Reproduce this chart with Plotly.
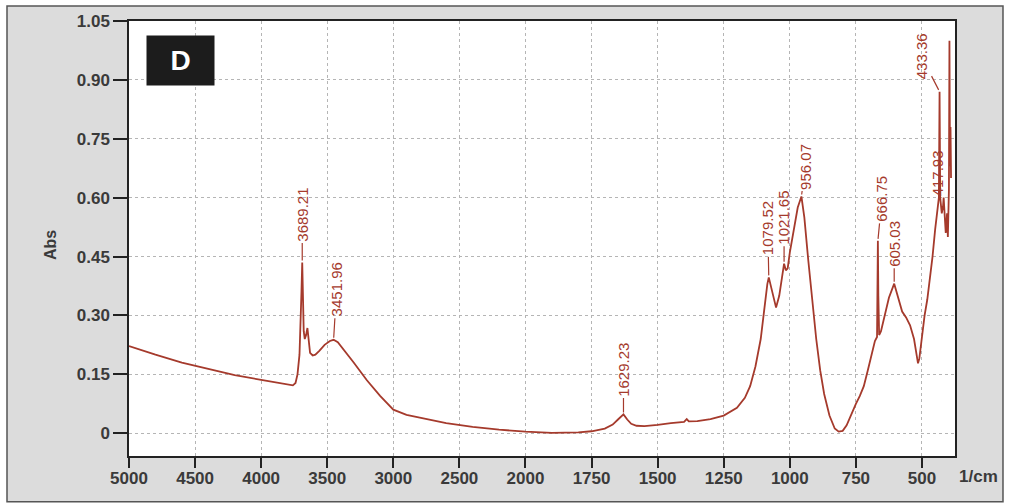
import numpy as np
import plotly.graph_objects as go

# FTIR absorbance spectrum (wavenumber in 1/cm, absorbance)
wavenumber = [
    5000, 4800, 4600, 4500, 4400, 4200, 4000, 3900, 3800, 3760, 3740, 3725,
    3710, 3700, 3695, 3689.21, 3684, 3678, 3670, 3660, 3650, 3642, 3630, 3610,
    3590, 3560, 3520, 3480, 3451.96, 3420, 3380, 3340, 3300, 3200, 3100, 3000,
    2900, 2800, 2600, 2400, 2200, 2000, 1900, 1800, 1750, 1700, 1670, 1650,
    1629.23, 1615, 1600, 1580, 1550, 1500, 1450, 1400, 1390, 1382, 1350, 1300,
    1250, 1200, 1170, 1150, 1130, 1110, 1095, 1085, 1079.52, 1070, 1060, 1052,
    1040, 1030, 1021.65, 1015, 1008, 1000, 985, 970, 956.07, 945, 930, 915,
    900, 885, 870, 850, 830, 815, 800, 785, 770, 750, 735, 720, 705, 690, 678,
    670, 668, 666.75, 665, 662, 655, 640, 625, 605.03, 590, 575, 560, 545, 530,
    520, 515, 510, 500, 490, 480, 470, 460, 450, 440, 436, 433.36, 431, 425,
    420, 417.93, 414, 410, 405, 402, 398, 396, 394, 392, 390,
]
absorbance = [
    0.222, 0.200, 0.180, 0.172, 0.163, 0.148, 0.136, 0.130, 0.124, 0.122, 0.128, 0.150,
    0.200, 0.280, 0.360, 0.435, 0.360, 0.260, 0.240, 0.250, 0.268, 0.240, 0.205, 0.198,
    0.200, 0.210, 0.225, 0.235, 0.238, 0.232, 0.215, 0.195, 0.180, 0.135, 0.095, 0.060,
    0.047, 0.040, 0.026, 0.016, 0.009, 0.004, 0.001, 0.002, 0.005, 0.012, 0.022, 0.035,
    0.048, 0.035, 0.024, 0.019, 0.018, 0.021, 0.026, 0.029, 0.036, 0.030, 0.031, 0.036,
    0.045, 0.065, 0.090, 0.120, 0.170, 0.240, 0.330, 0.380, 0.397, 0.370, 0.335, 0.320,
    0.350, 0.400, 0.432, 0.415, 0.420, 0.460, 0.520, 0.575, 0.603, 0.550, 0.440, 0.330,
    0.240, 0.160, 0.100, 0.045, 0.012, 0.004, 0.006, 0.020, 0.045, 0.075, 0.095, 0.120,
    0.160, 0.205, 0.235, 0.245, 0.350, 0.490, 0.350, 0.250, 0.260, 0.300, 0.345, 0.381,
    0.345, 0.310, 0.295, 0.275, 0.240, 0.200, 0.178, 0.190, 0.250, 0.300, 0.340, 0.390,
    0.450, 0.520, 0.580, 0.600, 0.870, 0.600, 0.560, 0.580, 0.600, 0.540, 0.510, 0.560,
    0.500, 0.620, 1.000, 0.680, 0.780, 0.650,
]

# Labelled peaks and the pixel offset of each rotated label from its peak
peak_labels = ["3689.21", "3451.96", "1629.23", "1079.52", "1021.65",
               "956.07", "666.75", "605.03", "433.36", "417.93"]
label_dx = [0, 3, 0, -1, 0, 4, 4, 0, -18, -6]
label_dy = [-48, -50, -45, -49, -46, -30, -42, -40, -35, -24]

x_ticks = [5000, 4500, 4000, 3500, 3000, 2500, 2000, 1750, 1500, 1250, 1000, 750, 500]
y_ticks = [0, 0.15, 0.30, 0.45, 0.60, 0.75, 0.90, 1.05]
y_ticktext = ["0", "0.15", "0.30", "0.45", "0.60", "0.75", "0.90", "1.05"]


def to_axis(wn):
    """Split wavenumber scale: 500 1/cm per division above 2000, 250 below."""
    wn = np.asarray(wn, dtype=float)
    return np.where(wn >= 2000, (5000 - wn) / 500.0, 6 + (2000 - wn) / 250.0)


LINE = "#a53a2c"
TEXT = "#3a3a3a"

fig = go.Figure()
fig.add_trace(go.Scatter(
    x=to_axis(wavenumber), y=absorbance, mode="lines",
    line=dict(color=LINE, width=1.8), hoverinfo="skip", showlegend=False,
))

lookup = dict(zip(wavenumber, absorbance))
for lab, dx, dy in zip(peak_labels, label_dx, label_dy):
    wn = float(lab)
    fig.add_annotation(
        x=float(to_axis(wn)), y=lookup[wn], text=lab, textangle=-90,
        showarrow=True, arrowhead=0, arrowwidth=1.2, arrowcolor=LINE,
        ax=dx, ay=dy, standoff=2, borderpad=1,
        font=dict(family="Liberation Sans Narrow, Arial Narrow, Arial", size=15, color=LINE),
    )

# Panel badge
fig.add_annotation(
    xref="paper", yref="paper", x=0.0206, y=0.968, xanchor="left", yanchor="top",
    text="<b>D</b>", showarrow=False, width=67, height=49, borderpad=0,
    bgcolor="#1c1c1c", font=dict(family="Arial", size=28, color="white"),
)
# Axis titles
fig.add_annotation(
    xref="paper", yref="paper", x=-0.1077, y=0.484, text="<b>Abs</b>", textangle=-90,
    showarrow=False, font=dict(family="Arial", size=16, color=TEXT),
)
fig.add_annotation(
    xref="paper", yref="paper", x=1.003, y=-0.048, xanchor="left", yanchor="middle",
    text="<b>1/cm</b>", showarrow=False,
    font=dict(family="Arial", size=17, color=TEXT),
)

# Grey panel frame and white plotting area
fig.add_shape(type="rect", xref="paper", yref="paper", x0=-0.1477, x1=1.0581,
              y0=-0.105, y1=1.0342, fillcolor="#dcdcdc",
              line=dict(color="#555555", width=1.5), layer="below")
fig.add_shape(type="rect", xref="paper", yref="paper", x0=0, x1=1, y0=0, y1=1,
              fillcolor="white", line=dict(width=0), layer="below")

axis_common = dict(
    showline=True, linecolor="#222222", linewidth=1.5, mirror=True,
    ticks="outside", tickcolor="#222222", tickwidth=1.5,
    showgrid=True, gridcolor="#b5b5b5", griddash="dot", gridwidth=1,
    zeroline=False,
    tickfont=dict(family="Arial", size=17, color=TEXT, weight="bold"),
)

fig.update_xaxes(
    range=[0, 12.5], tickvals=to_axis(x_ticks).tolist(),
    ticktext=[str(t) for t in x_ticks], ticklen=10, ticklabelstandoff=-4,
    **axis_common,
)
fig.update_yaxes(
    range=[-0.058, 1.05], tickvals=y_ticks, ticktext=y_ticktext, ticklen=14,
    **axis_common,
)

fig.update_layout(
    width=1009, height=504,
    margin=dict(l=129, r=54, t=18, b=48),
    paper_bgcolor="white", plot_bgcolor="rgba(0,0,0,0)",
)

fig.write_html("out.html")
